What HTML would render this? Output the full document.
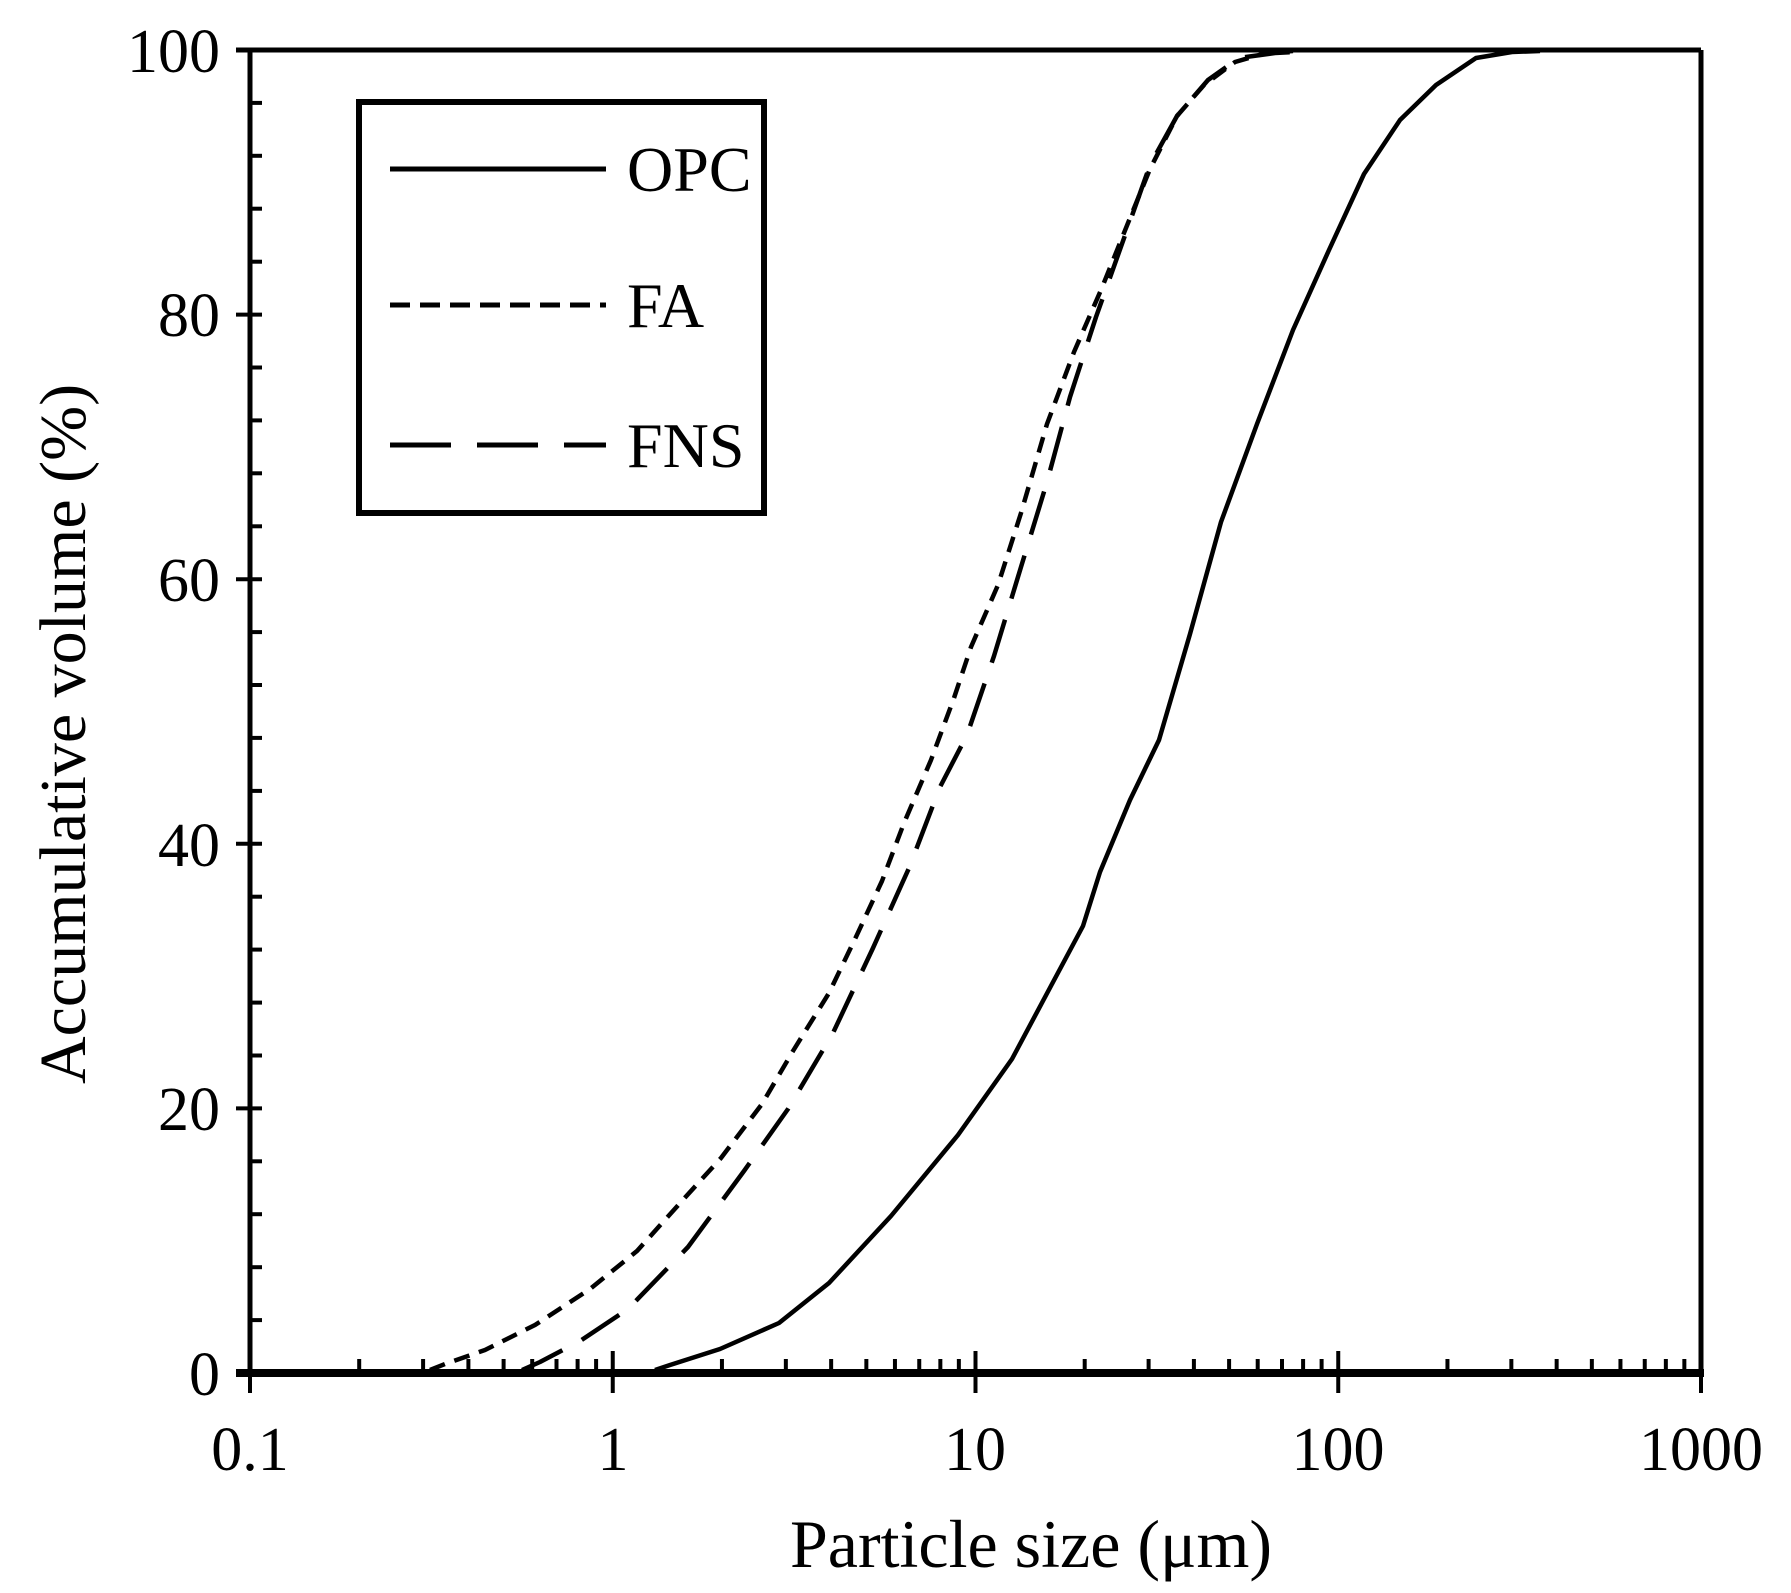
<!DOCTYPE html>
<html><head><style>body{margin:0;background:#fff}svg{display:block}</style></head><body>
<svg width="1791" height="1593" viewBox="0 0 1791 1593" xmlns="http://www.w3.org/2000/svg" font-family="Liberation Serif, serif">
<rect width="1791" height="1593" fill="#fff"/>
<defs>
<g id="dec" stroke="#000" stroke-width="4">
<line x1="109.2" y1="0" x2="109.2" y2="-14"/><line x1="173.1" y1="0" x2="173.1" y2="-14"/>
<line x1="218.4" y1="0" x2="218.4" y2="-14"/><line x1="253.6" y1="0" x2="253.6" y2="-14"/>
<line x1="282.2" y1="0" x2="282.2" y2="-14"/><line x1="306.5" y1="0" x2="306.5" y2="-14"/>
<line x1="327.6" y1="0" x2="327.6" y2="-14"/><line x1="346.1" y1="0" x2="346.1" y2="-14"/>
<line x1="0" y1="-22" x2="0" y2="20"/>
</g>
</defs>
<g stroke="#000" stroke-width="5" fill="none">
<line x1="236" y1="50" x2="1701" y2="50"/>
<line x1="250" y1="50" x2="250" y2="1373"/>
<line x1="1701" y1="50" x2="1701" y2="1375"/>
<line x1="236" y1="1373" x2="1704" y2="1373" stroke-width="8"/>
</g>
<use href="#dec" x="250" y="1373"/>
<use href="#dec" x="612.75" y="1373"/>
<use href="#dec" x="975.5" y="1373"/>
<use href="#dec" x="1338.25" y="1373"/>
<line x1="1701" y1="1351" x2="1701" y2="1393" stroke="#000" stroke-width="4"/>
<g stroke="#000" stroke-width="4">
<line x1="236" y1="1373" x2="262" y2="1373"/><line x1="236" y1="1108.4" x2="262" y2="1108.4"/><line x1="236" y1="843.8" x2="262" y2="843.8"/><line x1="236" y1="579.2" x2="262" y2="579.2"/><line x1="236" y1="314.6" x2="262" y2="314.6"/>
<g transform="translate(250,0)">
<line x1="0" x2="12" y1="1320.1" y2="1320.1"/><line x1="0" x2="12" y1="1267.2" y2="1267.2"/><line x1="0" x2="12" y1="1214.2" y2="1214.2"/><line x1="0" x2="12" y1="1161.3" y2="1161.3"/>
<line x1="0" x2="12" y1="1055.5" y2="1055.5"/><line x1="0" x2="12" y1="1002.6" y2="1002.6"/><line x1="0" x2="12" y1="949.6" y2="949.6"/><line x1="0" x2="12" y1="896.7" y2="896.7"/>
<line x1="0" x2="12" y1="790.9" y2="790.9"/><line x1="0" x2="12" y1="737.9" y2="737.9"/><line x1="0" x2="12" y1="685.0" y2="685.0"/><line x1="0" x2="12" y1="632.1" y2="632.1"/>
<line x1="0" x2="12" y1="526.3" y2="526.3"/><line x1="0" x2="12" y1="473.3" y2="473.3"/><line x1="0" x2="12" y1="420.4" y2="420.4"/><line x1="0" x2="12" y1="367.5" y2="367.5"/>
<line x1="0" x2="12" y1="261.7" y2="261.7"/><line x1="0" x2="12" y1="208.7" y2="208.7"/><line x1="0" x2="12" y1="155.8" y2="155.8"/><line x1="0" x2="12" y1="102.9" y2="102.9"/>
</g>
</g>
<g font-size="62" text-anchor="end" fill="#000">
<text x="220" y="72">100</text>
<text x="220" y="336">80</text>
<text x="220" y="601">60</text>
<text x="220" y="866">40</text>
<text x="220" y="1130">20</text>
<text x="220" y="1395">0</text>
</g>
<g font-size="62" text-anchor="middle" fill="#000">
<text x="250" y="1470">0.1</text>
<text x="613" y="1470">1</text>
<text x="975" y="1470">10</text>
<text x="1338" y="1470">100</text>
<text x="1701" y="1470">1000</text>
<text x="1031" y="1567" font-size="68">Particle size (μm)</text>
<text transform="translate(85,734) rotate(-90)" font-size="66">Accumulative volume (%)</text>
</g>
<rect x="359" y="102" width="405" height="411" fill="none" stroke="#000" stroke-width="6"/>
<g stroke="#000" stroke-width="5">
<line x1="390" y1="169" x2="606" y2="169"/>
<line x1="390" y1="305" x2="606" y2="305" stroke-dasharray="20,10"/>
<line x1="390" y1="445" x2="606" y2="445" stroke-dasharray="61,26"/>
</g>
<g font-size="64" fill="#000">
<text x="627" y="191">OPC</text>
<text x="627" y="327">FA</text>
<text x="627" y="467">FNS</text>
</g>
<g fill="none" stroke="#000" stroke-width="4.5" stroke-linejoin="round">
<polyline points="655,1370 670,1365 720,1349 779,1323 829,1283 891,1216 958,1135 1012,1059 1052,984 1083,926 1100,872 1130,800 1159,740 1190,634 1221,522 1257,424 1293,330 1329,250 1364,174 1400,120 1436,85 1476,58 1512,52 1540,51"/>
<polyline stroke-dasharray="16,10" points="430,1370 445,1364 485,1350 535,1325 590,1289 637,1251 681,1202 721,1158 762,1104 793,1051 829,993 855,939 882,881 904,823 931,760 954,698 971,647 998,585 1021,513 1047,424 1074,352 1101,290 1128,223 1150,169 1177,116 1204,85 1235,62 1266,53 1293,51"/>
<polyline stroke-dasharray="45,22" points="522,1370 540,1362 580,1341 628,1309 688,1247 744,1171 788,1109 833,1033 873,948 909,868 940,787 967,735 994,656 1021,567 1047,482 1070,397 1096,317 1123,241 1150,165 1177,116 1208,80 1239,58 1275,53 1295,52"/>
</g>
</svg>
</body></html>
